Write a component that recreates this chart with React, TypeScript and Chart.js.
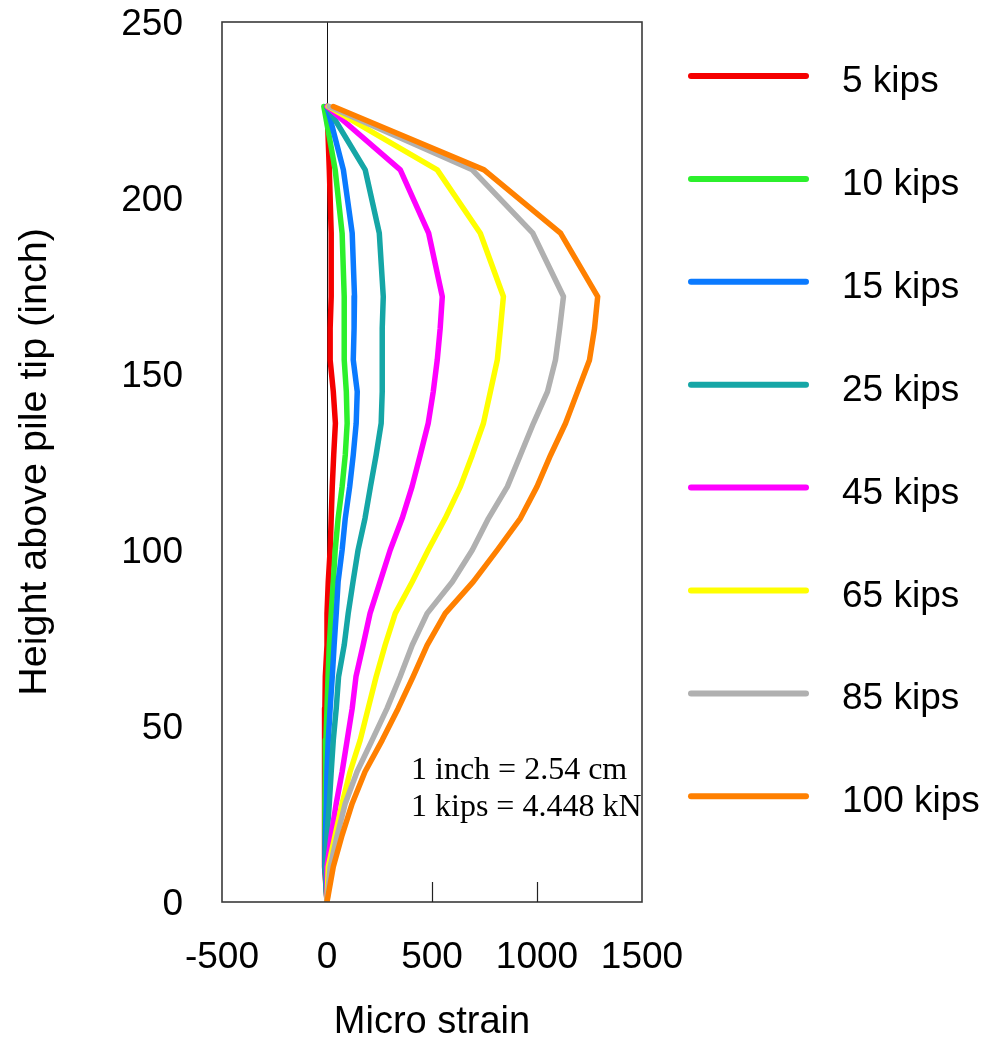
import React, { useEffect, useRef } from "react";
import { Chart, registerables } from "chart.js";

Chart.register(...registerables);

// Gauge heights along the pile (inch above tip), shared by every load step
const heights = [226, 208, 190, 172, 163, 154, 145, 136, 127, 118, 109, 100, 91, 82, 73, 64, 55, 46, 37, 28, 19, 10, 0];

// Measured micro strain per load step, one value per gauge height
const strain5 = [0, 11, 20, 20, 15, 15, 30, 40, 32, 25, 20, 15, 6, 0, 0, -8, -10, -12, -12, -12, -12, -10, 0];
const strain10 = [-15, 39, 72, 82, 82, 82, 92, 96, 87, 72, 53, 39, 30, 20, 11, 5, 0, -5, -8, -10, -10, -8, 0];
const strain15 = [0, 78, 120, 131, 129, 125, 144, 139, 125, 108, 87, 72, 53, 44, 34, 25, 15, 6, 0, -3, -8, -10, 0];
const strain25 = [0, 182, 249, 268, 263, 263, 263, 258, 234, 207, 181, 148, 124, 101, 82, 55, 44, 30, 20, 11, 0, -8, 0];
const strain45 = [0, 349, 484, 549, 539, 525, 506, 482, 444, 405, 358, 301, 253, 205, 172, 138, 120, 96, 72, 44, 20, 0, 0];
const strain65 = [5, 525, 730, 840, 826, 811, 778, 745, 692, 635, 563, 482, 406, 325, 277, 234, 196, 158, 110, 72, 39, 6, 0];
const strain85 = [10, 692, 980, 1126, 1108, 1088, 1050, 983, 921, 859, 769, 692, 597, 477, 406, 348, 286, 215, 143, 87, 49, 15, 0];
const strain100 = [30, 748, 1112, 1289, 1274, 1250, 1193, 1136, 1065, 1000, 921, 811, 697, 563, 477, 410, 339, 263, 181, 120, 72, 30, 0];

const loadLabels = ["5 kips", "10 kips", "15 kips", "25 kips", "45 kips", "65 kips", "85 kips", "100 kips"];
const strainSeries = [strain5, strain10, strain15, strain25, strain45, strain65, strain85, strain100];
const seriesColors = ["#f50000", "#2cf02c", "#0a7aff", "#15a6a6", "#ff00ff", "#ffff00", "#b0b0b0", "#ff8000"];

const xTickValues = [-500, 0, 500, 1000, 1500];
const yTickValues = [0, 50, 100, 150, 200, 250];
const xTitle = "Micro strain";
const yTitle = "Height above pile tip (inch)";
const noteLines = ["1 inch = 2.54 cm", "1 kips = 4.448 kN"];

const SANS = "'Liberation Sans', Arial, sans-serif";
const SERIF = "'Liberation Serif', 'Times New Roman', serif";

// Box around the plot, the zero-strain reference line and inward ticks on the strain axis
const framePlugin = {
  id: "frame",
  beforeDatasetsDraw(chart: any) {
    const { ctx, chartArea } = chart;
    const x0 = chart.scales.x.getPixelForValue(0);
    ctx.save();
    ctx.strokeStyle = "#111";
    ctx.lineWidth = 1;
    ctx.beginPath();
    ctx.moveTo(Math.round(x0) + 0.5, chartArea.top);
    ctx.lineTo(Math.round(x0) + 0.5, chartArea.bottom);
    ctx.stroke();
    ctx.restore();
  },
  afterDatasetsDraw(chart: any) {
    const { ctx, chartArea } = chart;
    const xs = chart.scales.x;
    ctx.save();
    ctx.strokeStyle = "#3a3a3a";
    ctx.lineWidth = 1.6;
    ctx.strokeRect(chartArea.left, chartArea.top, chartArea.right - chartArea.left, chartArea.bottom - chartArea.top);
    ctx.lineWidth = 1.2;
    ctx.strokeStyle = "#222";
    xTickValues.forEach((v) => {
      const px = xs.getPixelForValue(v);
      if (v === 0 || px <= chartArea.left + 2 || px >= chartArea.right - 2) return;
      ctx.beginPath();
      ctx.moveTo(Math.round(px) + 0.5, chartArea.bottom);
      ctx.lineTo(Math.round(px) + 0.5, chartArea.bottom - 20);
      ctx.stroke();
    });
    ctx.restore();
  },
};

// Unit conversion note placed inside the plot
const notePlugin = {
  id: "note",
  afterDatasetsDraw(chart: any) {
    const { ctx } = chart;
    const x = chart.scales.x.getPixelForValue(400);
    ctx.save();
    ctx.fillStyle = "#000";
    ctx.font = `32px ${SERIF}`;
    ctx.textAlign = "left";
    ctx.textBaseline = "alphabetic";
    ctx.fillText(noteLines[0], x, chart.scales.y.getPixelForValue(35));
    ctx.fillText(noteLines[1], x, chart.scales.y.getPixelForValue(24.5));
    ctx.restore();
  },
};

// Load-step key drawn in the column to the right of the plot
const keyPlugin = {
  id: "key",
  afterDraw(chart: any) {
    const { ctx } = chart;
    ctx.save();
    chart.data.datasets.forEach((ds: any, i: number) => {
      const y = 76 + i * 102.9;
      ctx.strokeStyle = ds.borderColor;
      ctx.lineWidth = 6;
      ctx.lineCap = "round";
      ctx.beginPath();
      ctx.moveTo(691, y);
      ctx.lineTo(806, y);
      ctx.stroke();
      ctx.fillStyle = "#000";
      ctx.font = `37px ${SANS}`;
      ctx.textAlign = "left";
      ctx.textBaseline = "alphabetic";
      ctx.fillText(ds.label, 842, y + 16);
    });
    ctx.restore();
  },
};

export default function App() {
  const canvasRef = useRef<HTMLCanvasElement | null>(null);

  useEffect(() => {
    document.body.style.margin = "0";
    const canvas = canvasRef.current;
    if (!canvas) return;

    const datasets = strainSeries.map((series, i) => ({
      label: loadLabels[i],
      data: series.map((s, k) => ({ x: s, y: heights[k] })),
      borderColor: seriesColors[i],
      backgroundColor: seriesColors[i],
      borderWidth: 5.5,
      borderCapStyle: "round" as const,
      borderJoinStyle: "round" as const,
      pointRadius: 0,
      showLine: true,
      fill: false,
      tension: 0,
      order: strainSeries.length - i,
    }));

    const chart = new Chart(canvas, {
      type: "scatter",
      data: { datasets },
      options: {
        animation: false,
        responsive: false,
        maintainAspectRatio: false,
        layout: { padding: { left: 0, top: 22, right: 343, bottom: 0 } },
        plugins: {
          legend: { display: false },
          tooltip: { enabled: false },
        },
        scales: {
          x: {
            type: "linear",
            min: -500,
            max: 1500,
            grid: { display: false },
            border: { display: false },
            afterBuildTicks: (scale: any) => {
              scale.ticks = xTickValues.map((v) => ({ value: v }));
            },
            afterFit: (scale: any) => {
              scale.height = 144;
              scale.paddingLeft = 0;
              scale.paddingRight = 0;
              scale.paddingTop = 0;
              scale.paddingBottom = 0;
            },
            ticks: {
              color: "#000",
              padding: 26,
              maxRotation: 0,
              autoSkip: false,
              font: { family: SANS, size: 37 },
              callback: (v: any) => String(v),
            },
            title: {
              display: true,
              text: xTitle,
              color: "#000",
              padding: { top: 0, bottom: 1 },
              font: { family: SANS, size: 38 },
            },
          },
          y: {
            type: "linear",
            min: 0,
            max: 250,
            grid: { display: false },
            border: { display: false },
            afterBuildTicks: (scale: any) => {
              scale.ticks = yTickValues.map((v) => ({ value: v }));
            },
            afterFit: (scale: any) => {
              scale.width = 222;
              scale.paddingLeft = 0;
              scale.paddingRight = 0;
              scale.paddingTop = 0;
              scale.paddingBottom = 0;
            },
            ticks: {
              color: "#000",
              padding: 31,
              labelOffset: 3,
              autoSkip: false,
              font: { family: SANS, size: 37 },
              callback: (v: any) => String(v),
            },
            title: {
              display: true,
              text: yTitle,
              color: "#000",
              padding: { top: 11, bottom: 0 },
              font: { family: SANS, size: 39.5 },
            },
          },
        },
      },
      plugins: [framePlugin, notePlugin, keyPlugin],
    });

    return () => chart.destroy();
  }, []);

  return (
    <div style={{ width: 985, height: 1046, overflow: "hidden", background: "#fff" }}>
      <canvas ref={canvasRef} width={985} height={1046} style={{ display: "block" }} />
    </div>
  );
}
